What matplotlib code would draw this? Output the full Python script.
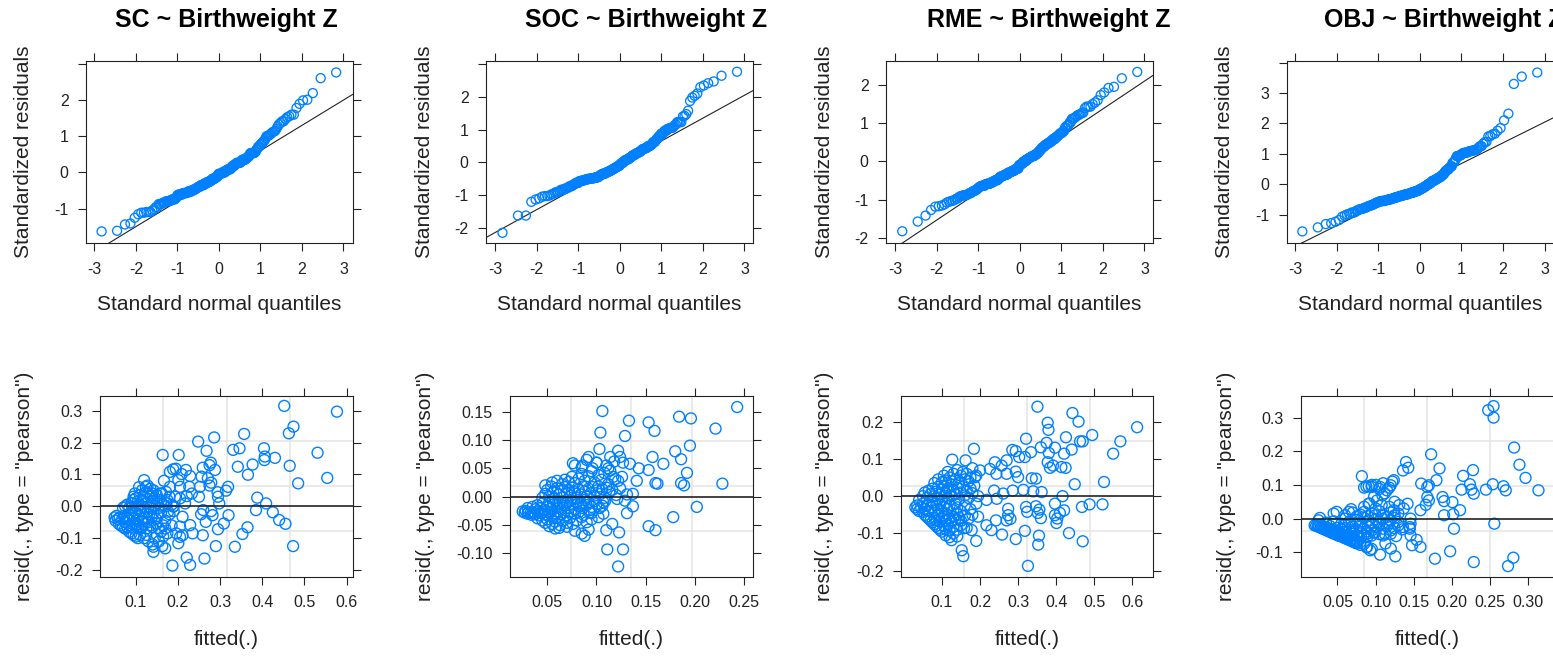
import matplotlib
matplotlib.use('Agg')
import matplotlib.pyplot as plt
import numpy as np
from statistics import NormalDist

W, H = 1553, 656

plt.rcParams['font.family'] = ['Liberation Sans', 'DejaVu Sans']
plt.rcParams['axes.unicode_minus'] = False

POINT = '#0080ff'
INK = '#222222'
GRID = '#e4e4e4'

MODELS = ['SC', 'SOC', 'RME', 'OBJ']

# residual scale used to standardize, and the qq reference line per model
SIGMA = [0.114, 0.057, 0.102, 0.091]
QQ_INTERCEPT = [-0.10, -0.05, -0.08, 0.00]
QQ_SLOPE = [0.70, 0.70, 0.73, 0.68]

# (fitted, pearson residual) per model
SC_POINTS = [
    (0.452, 0.315), (0.577, 0.297), (0.474, 0.250), (0.463, 0.229), (0.357, 0.227),
    (0.531, 0.168), (0.404, 0.182), (0.346, 0.182), (0.331, 0.177), (0.430, 0.152),
    (0.406, 0.156), (0.405, 0.145), (0.377, 0.131), (0.342, 0.124), (0.366, 0.099),
    (0.465, 0.127), (0.554, 0.089), (0.485, 0.072), (0.388, 0.027), (0.409, 0.009),
    (0.385, -0.012), (0.425, -0.019), (0.440, -0.043), (0.455, -0.055), (0.473, -0.125),
    (0.365, -0.066), (0.353, -0.087), (0.335, -0.127), (0.309, -0.054), (0.320, -0.028),
    (0.319, 0.061), (0.314, 0.049), (0.294, 0.044), (0.295, 0.030), (0.298, 0.009),
    (0.295, -0.072), (0.290, -0.125), (0.263, -0.164), (0.221, -0.161), (0.229, -0.184),
    (0.187, -0.186), (0.248, 0.203), (0.286, 0.216), (0.268, 0.174), (0.278, 0.137),
    (0.275, 0.129), (0.288, 0.114), (0.259, 0.121), (0.256, 0.093), (0.271, 0.088),
    (0.279, 0.074), (0.275, 0.065), (0.252, 0.061), (0.250, 0.030), (0.260, -0.012),
    (0.255, -0.025), (0.266, -0.049), (0.282, -0.028), (0.279, -0.015), (0.259, -0.091),
    (0.235, -0.085), (0.229, -0.059), (0.217, 0.009), (0.221, 0.032), (0.227, 0.061),
    (0.233, 0.040), (0.219, 0.114), (0.229, 0.095), (0.209, 0.101), (0.201, 0.082),
    (0.202, 0.161), (0.164, 0.161), (0.189, 0.116), (0.195, 0.118), (0.181, 0.108),
    (0.167, 0.080), (0.181, 0.061), (0.205, 0.061), (0.193, 0.030), (0.205, 0.025),
    (0.189, -0.001), (0.211, -0.033), (0.205, -0.064), (0.211, -0.091), (0.205, -0.096),
    (0.201, -0.116), (0.196, -0.085), (0.170, -0.132), (0.163, -0.125), (0.142, -0.127),
    (0.142, -0.143), (0.120, 0.082), (0.124, 0.061), (0.162, 0.040), (0.173, 0.009),
    (0.177, -0.017),
    (0.085, -0.080), (0.090, -0.085), (0.095, -0.090), (0.100, -0.095), (0.105, -0.100),
    (0.110, -0.090), (0.120, -0.100), (0.125, -0.090), (0.130, -0.110), (0.140, -0.120),
    (0.145, -0.100), (0.155, -0.110), (0.160, -0.080), (0.165, -0.095), (0.175, -0.085),
    (0.060, -0.055), (0.065, -0.060), (0.070, -0.065), (0.075, -0.070), (0.080, -0.065),
    (0.085, -0.060), (0.090, -0.065), (0.095, -0.070), (0.100, -0.060), (0.105, -0.065),
    (0.110, -0.070), (0.115, -0.065), (0.120, -0.055), (0.125, -0.070), (0.130, -0.050),
    (0.135, -0.060), (0.140, -0.065), (0.150, -0.055), (0.155, -0.070), (0.165, -0.060),
    (0.170, -0.070), (0.185, -0.060), (0.075, -0.050), (0.098, -0.052), (0.118, -0.048),
    (0.050, -0.035), (0.052, -0.045), (0.055, -0.030), (0.058, -0.040), (0.062, -0.035),
    (0.068, -0.040), (0.072, -0.030), (0.078, -0.035), (0.082, -0.040), (0.086, -0.045),
    (0.088, -0.020), (0.092, -0.030), (0.096, -0.040), (0.100, -0.020), (0.104, -0.045),
    (0.108, -0.030), (0.112, -0.015), (0.116, -0.040), (0.122, -0.035), (0.126, -0.020),
    (0.132, -0.025), (0.138, -0.035), (0.142, -0.020), (0.148, -0.040), (0.152, -0.030),
    (0.160, -0.020), (0.170, -0.045), (0.180, -0.025), (0.190, -0.015),
    (0.070, -0.005), (0.075, 0.000), (0.080, 0.005), (0.085, -0.005), (0.090, 0.010),
    (0.095, 0.020), (0.095, 0.030), (0.100, 0.000), (0.100, 0.025), (0.105, 0.015),
    (0.105, -0.005), (0.110, 0.005), (0.110, 0.035), (0.115, 0.020), (0.115, 0.050),
    (0.120, -0.005), (0.120, 0.030), (0.125, 0.010), (0.125, 0.045), (0.130, 0.000),
    (0.130, 0.040), (0.135, -0.005), (0.135, 0.030), (0.135, 0.055), (0.140, 0.015),
    (0.140, 0.040), (0.145, 0.000), (0.145, 0.025), (0.150, 0.010), (0.150, 0.035),
    (0.155, -0.005), (0.155, 0.020), (0.160, 0.015), (0.165, 0.005), (0.170, 0.000),
    (0.175, 0.020), (0.180, 0.030), (0.185, 0.005), (0.190, 0.000), (0.098, 0.040),
    (0.092, -0.002), (0.108, 0.060), (0.128, 0.065), (0.142, 0.050), (0.158, 0.040),
    (0.172, 0.045),
]

SOC_POINTS = [
    (0.243, 0.158), (0.106, 0.151), (0.184, 0.141), (0.196, 0.138), (0.133, 0.134),
    (0.153, 0.131), (0.221, 0.120), (0.159, 0.116), (0.104, 0.113), (0.129, 0.107),
    (0.195, 0.090), (0.180, 0.080), (0.103, 0.084), (0.122, 0.081), (0.124, 0.070),
    (0.114, 0.070), (0.157, 0.070), (0.186, 0.066), (0.168, 0.058), (0.153, 0.047),
    (0.143, 0.050), (0.192, 0.042), (0.092, 0.070), (0.076, 0.059), (0.086, 0.055),
    (0.100, 0.060), (0.110, 0.055), (0.114, 0.046), (0.127, 0.060), (0.134, 0.058),
    (0.141, 0.028), (0.126, 0.035), (0.119, 0.031), (0.160, 0.024), (0.162, 0.023),
    (0.186, 0.024), (0.189, 0.020), (0.228, 0.023), (0.202, -0.018), (0.178, -0.036),
    (0.153, -0.052), (0.160, -0.059), (0.123, -0.063), (0.116, -0.048), (0.110, -0.059),
    (0.102, -0.036), (0.107, -0.030), (0.111, -0.093), (0.127, -0.093), (0.122, -0.123),
    (0.092, -0.058), (0.085, -0.065), (0.088, -0.069), (0.131, -0.029), (0.137, -0.017),
    (0.137, 0.005), (0.131, 0.004), (0.129, -0.007), (0.121, -0.004), (0.109, -0.007),
    (0.107, -0.010), (0.093, -0.024), (0.095, -0.029),
    (0.052, -0.052), (0.058, -0.056), (0.062, -0.055), (0.070, -0.053), (0.078, -0.060),
    (0.040, -0.038), (0.045, -0.042), (0.048, -0.046), (0.050, -0.040), (0.055, -0.048),
    (0.058, -0.044), (0.060, -0.036), (0.063, -0.050), (0.066, -0.042), (0.070, -0.046),
    (0.073, -0.038), (0.076, -0.048), (0.080, -0.042), (0.085, -0.036), (0.090, -0.045),
    (0.095, -0.040),
    (0.025, -0.026), (0.027, -0.028), (0.028, -0.025), (0.030, -0.030), (0.031, -0.027),
    (0.033, -0.029), (0.034, -0.032), (0.036, -0.028), (0.038, -0.031), (0.040, -0.026),
    (0.042, -0.033), (0.044, -0.029), (0.046, -0.027), (0.048, -0.031), (0.050, -0.033),
    (0.052, -0.028), (0.054, -0.026), (0.056, -0.032), (0.058, -0.029), (0.061, -0.027),
    (0.064, -0.031), (0.067, -0.028), (0.070, -0.033), (0.074, -0.026), (0.078, -0.030),
    (0.082, -0.027), (0.087, -0.032), (0.093, -0.028),
    (0.030, -0.020), (0.035, -0.018), (0.038, -0.022), (0.040, -0.015), (0.043, -0.020),
    (0.045, -0.012), (0.047, -0.023), (0.050, -0.016), (0.052, -0.010), (0.054, -0.021),
    (0.056, -0.014), (0.058, -0.007), (0.060, -0.019), (0.062, -0.012), (0.064, -0.022),
    (0.066, -0.008), (0.068, -0.016), (0.070, -0.011), (0.072, -0.020), (0.074, -0.006),
    (0.076, -0.014), (0.078, -0.022), (0.080, -0.009), (0.082, -0.017), (0.084, -0.012),
    (0.086, -0.020), (0.088, -0.006), (0.090, -0.015), (0.092, -0.010), (0.095, -0.018),
    (0.098, -0.008), (0.100, -0.013), (0.103, -0.020), (0.106, -0.016),
    (0.045, -0.002), (0.048, 0.005), (0.050, 0.012), (0.052, 0.000), (0.054, 0.018),
    (0.056, 0.008), (0.058, -0.003), (0.060, 0.015), (0.062, 0.004), (0.064, 0.010),
    (0.066, -0.001), (0.068, 0.017), (0.070, 0.006), (0.072, 0.012), (0.074, 0.002),
    (0.076, 0.016), (0.078, 0.008), (0.080, -0.002), (0.082, 0.013), (0.084, 0.004),
    (0.086, 0.018), (0.088, 0.009), (0.090, 0.000), (0.092, 0.014), (0.094, 0.006),
    (0.096, 0.017), (0.098, 0.002), (0.100, 0.011), (0.102, 0.018), (0.104, 0.005),
    (0.106, 0.013), (0.108, -0.002), (0.110, 0.016), (0.113, 0.008), (0.116, 0.012),
    (0.120, 0.003), (0.124, 0.015),
    (0.048, 0.020), (0.055, 0.025), (0.060, 0.028), (0.065, 0.022), (0.068, 0.030),
    (0.072, 0.026), (0.075, 0.035), (0.078, 0.024), (0.082, 0.032), (0.085, 0.040),
    (0.088, 0.028), (0.092, 0.036), (0.095, 0.045), (0.098, 0.025), (0.102, 0.038),
    (0.105, 0.030), (0.108, 0.042), (0.112, 0.022), (0.117, 0.035), (0.122, 0.028),
    (0.078, 0.055), (0.085, 0.052), (0.090, 0.065), (0.096, 0.050), (0.100, 0.060),
    (0.112, 0.050), (0.118, 0.062),
]

RME_POINTS = [
    (0.351, 0.240), (0.443, 0.223), (0.459, 0.200), (0.378, 0.197), (0.380, 0.178),
    (0.613, 0.185), (0.495, 0.164), (0.426, 0.158), (0.321, 0.154), (0.569, 0.147),
    (0.463, 0.147), (0.470, 0.147), (0.375, 0.143), (0.360, 0.131), (0.397, 0.130),
    (0.441, 0.125), (0.184, 0.127), (0.550, 0.114), (0.421, 0.114), (0.334, 0.118),
    (0.285, 0.124), (0.294, 0.121), (0.381, 0.116), (0.127, 0.098), (0.162, 0.096),
    (0.318, 0.105), (0.303, 0.105), (0.270, 0.096), (0.378, 0.091), (0.392, 0.082),
    (0.425, 0.076), (0.414, 0.078), (0.384, 0.076), (0.239, 0.091), (0.257, 0.082),
    (0.226, 0.073), (0.200, 0.069), (0.187, 0.051), (0.243, 0.060), (0.270, 0.060),
    (0.294, 0.066), (0.300, 0.051), (0.336, 0.048), (0.347, 0.047), (0.449, 0.032),
    (0.526, 0.038), (0.314, 0.017), (0.286, 0.015), (0.362, 0.011), (0.340, 0.013),
    (0.237, 0.015), (0.261, 0.007), (0.417, 0.000), (0.244, -0.007), (0.217, -0.010),
    (0.321, -0.029), (0.347, -0.027), (0.356, -0.036), (0.324, -0.042), (0.352, -0.045),
    (0.360, -0.059), (0.397, -0.020), (0.410, -0.045), (0.397, -0.051), (0.403, -0.060),
    (0.401, -0.072), (0.421, -0.038), (0.468, -0.029), (0.488, -0.022), (0.522, -0.022),
    (0.274, -0.034), (0.274, -0.051), (0.280, -0.061), (0.270, -0.065), (0.242, -0.065),
    (0.217, -0.078), (0.230, -0.091), (0.258, -0.103), (0.294, -0.115), (0.318, -0.093),
    (0.355, -0.106), (0.353, -0.130), (0.434, -0.099), (0.470, -0.121), (0.326, -0.187),
    (0.152, -0.145), (0.156, -0.161), (0.190, -0.120), (0.178, -0.091), (0.158, -0.086),
    (0.110, -0.105), (0.120, -0.110), (0.130, -0.100), (0.140, -0.108), (0.125, -0.118),
    (0.080, -0.075), (0.085, -0.080), (0.090, -0.085), (0.095, -0.090), (0.100, -0.095),
    (0.105, -0.080), (0.110, -0.088), (0.115, -0.075), (0.120, -0.092), (0.130, -0.082),
    (0.140, -0.090), (0.150, -0.078), (0.165, -0.085),
    (0.055, -0.050), (0.060, -0.055), (0.065, -0.060), (0.070, -0.065), (0.075, -0.070),
    (0.080, -0.058), (0.085, -0.065), (0.090, -0.050), (0.095, -0.068), (0.100, -0.060),
    (0.105, -0.055), (0.110, -0.065), (0.115, -0.050), (0.120, -0.060), (0.125, -0.068),
    (0.130, -0.055), (0.135, -0.062), (0.140, -0.048), (0.145, -0.058), (0.150, -0.066),
    (0.160, -0.052), (0.170, -0.060), (0.180, -0.050), (0.195, -0.055),
    (0.030, -0.030), (0.035, -0.025), (0.035, -0.035), (0.040, -0.040), (0.045, -0.030),
    (0.050, -0.020), (0.050, -0.042), (0.055, -0.035), (0.060, -0.025), (0.065, -0.040),
    (0.070, -0.030), (0.075, -0.018), (0.080, -0.038), (0.085, -0.025), (0.090, -0.035),
    (0.095, -0.020), (0.100, -0.040), (0.105, -0.028), (0.110, -0.018), (0.115, -0.035),
    (0.120, -0.025), (0.130, -0.038), (0.135, -0.020), (0.140, -0.030), (0.150, -0.040),
    (0.160, -0.025), (0.175, -0.035), (0.190, -0.020),
    (0.040, -0.010), (0.050, 0.000), (0.055, 0.010), (0.060, -0.005), (0.065, 0.015),
    (0.070, 0.005), (0.075, 0.020), (0.080, 0.000), (0.085, 0.012), (0.090, -0.008),
    (0.090, 0.025), (0.095, 0.005), (0.100, 0.018), (0.100, -0.010), (0.105, 0.028),
    (0.110, 0.008), (0.115, -0.005), (0.115, 0.020), (0.120, 0.012), (0.125, 0.000),
    (0.125, 0.030), (0.130, 0.015), (0.135, 0.005), (0.140, 0.022), (0.145, -0.008),
    (0.150, 0.010), (0.155, 0.025), (0.160, 0.002), (0.165, 0.015), (0.170, -0.005),
    (0.175, 0.020), (0.180, 0.008), (0.185, 0.028), (0.195, 0.000),
    (0.080, 0.035), (0.090, 0.045), (0.100, 0.038), (0.105, 0.055), (0.110, 0.042),
    (0.115, 0.065), (0.120, 0.050), (0.125, 0.040), (0.130, 0.060), (0.135, 0.045),
    (0.140, 0.070), (0.145, 0.035), (0.150, 0.055), (0.155, 0.065), (0.160, 0.045),
    (0.165, 0.060), (0.170, 0.040), (0.175, 0.050), (0.180, 0.075), (0.190, 0.055),
]

OBJ_POINTS = [
    (0.255, 0.334), (0.248, 0.322), (0.255, 0.300), (0.282, 0.211), (0.173, 0.191),
    (0.289, 0.160), (0.297, 0.121), (0.314, 0.084), (0.184, 0.149), (0.228, 0.144),
    (0.215, 0.127), (0.140, 0.168), (0.136, 0.143), (0.143, 0.151), (0.082, 0.126),
    (0.180, 0.114), (0.160, 0.104), (0.168, 0.094), (0.224, 0.102), (0.254, 0.102),
    (0.268, 0.096), (0.271, 0.084), (0.245, 0.086), (0.226, 0.086), (0.229, 0.074),
    (0.213, 0.086), (0.211, 0.025), (0.202, 0.013), (0.190, 0.010), (0.201, 0.049),
    (0.188, 0.064), (0.190, 0.052), (0.168, 0.064), (0.170, 0.054), (0.166, 0.041),
    (0.159, 0.025), (0.170, 0.099), (0.124, 0.114), (0.120, 0.099), (0.106, 0.094),
    (0.095, 0.094), (0.091, 0.096), (0.115, 0.084), (0.109, 0.069), (0.102, 0.054),
    (0.091, 0.044), (0.256, -0.015), (0.203, -0.030), (0.198, -0.097), (0.178, -0.119),
    (0.229, -0.129), (0.274, -0.141), (0.281, -0.116), (0.159, -0.084), (0.154, -0.063),
    (0.146, -0.050), (0.148, -0.079), (0.145, -0.030), (0.146, 0.000), (0.146, -0.015),
    (0.136, -0.025), (0.127, -0.052), (0.120, -0.089), (0.126, -0.112), (0.106, -0.107),
    (0.113, -0.074), (0.112, -0.045), (0.089, -0.055), (0.089, -0.084), (0.093, -0.094),
    (0.137, 0.030), (0.131, 0.040), (0.142, 0.044), (0.124, 0.025), (0.065, 0.020),
    (0.049, 0.020), (0.027, 0.002),
    (0.080, -0.078), (0.088, -0.085), (0.095, -0.090),
    (0.055, -0.053), (0.058, -0.056), (0.060, -0.058), (0.062, -0.060), (0.064, -0.062),
    (0.066, -0.064), (0.068, -0.066), (0.070, -0.068), (0.072, -0.070), (0.074, -0.072),
    (0.076, -0.074), (0.065, -0.055), (0.070, -0.060), (0.075, -0.065), (0.080, -0.070),
    (0.085, -0.075),
    (0.038, -0.037), (0.040, -0.039), (0.042, -0.041), (0.044, -0.043), (0.046, -0.045),
    (0.048, -0.047), (0.050, -0.049), (0.052, -0.051), (0.045, -0.038), (0.050, -0.042),
    (0.055, -0.046), (0.060, -0.050), (0.065, -0.048), (0.070, -0.045), (0.075, -0.050),
    (0.080, -0.040), (0.085, -0.048), (0.090, -0.044), (0.095, -0.050), (0.100, -0.040),
    (0.105, -0.046), (0.110, -0.050), (0.058, -0.040), (0.068, -0.038), (0.078, -0.052),
    (0.088, -0.038), (0.098, -0.042), (0.120, -0.045),
    (0.020, -0.020), (0.022, -0.021), (0.024, -0.023), (0.026, -0.025), (0.028, -0.027),
    (0.030, -0.029), (0.032, -0.031), (0.034, -0.033), (0.036, -0.035), (0.025, -0.018),
    (0.030, -0.022), (0.035, -0.026), (0.040, -0.030), (0.045, -0.033), (0.050, -0.036),
    (0.055, -0.032), (0.060, -0.028), (0.065, -0.035), (0.070, -0.025), (0.075, -0.032),
    (0.080, -0.020), (0.085, -0.030), (0.090, -0.022), (0.095, -0.035), (0.100, -0.025),
    (0.105, -0.018), (0.110, -0.030), (0.115, -0.022), (0.120, -0.035), (0.125, -0.028),
    (0.130, -0.020), (0.040, -0.022), (0.050, -0.027), (0.060, -0.018), (0.070, -0.035),
    (0.135, -0.032), (0.145, -0.025),
    (0.025, -0.005), (0.035, -0.012), (0.045, -0.008), (0.055, -0.015), (0.060, 0.000),
    (0.065, -0.010), (0.075, -0.004), (0.080, -0.012), (0.085, 0.002), (0.090, -0.006),
    (0.095, -0.014), (0.100, -0.002), (0.105, -0.009), (0.110, 0.000), (0.115, -0.012),
    (0.120, -0.005), (0.125, 0.002), (0.130, -0.010),
    (0.045, 0.015), (0.060, 0.010), (0.070, 0.018), (0.075, 0.006), (0.080, 0.012),
    (0.085, 0.020), (0.090, 0.008), (0.095, 0.016), (0.100, 0.010), (0.105, 0.022),
    (0.110, 0.012), (0.115, 0.005), (0.120, 0.018), (0.125, 0.010), (0.130, 0.015),
    (0.068, 0.028), (0.085, 0.035), (0.092, 0.045), (0.100, 0.030), (0.108, 0.040),
    (0.118, 0.035), (0.125, 0.050), (0.098, 0.065), (0.112, 0.075),
    (0.088, 0.095), (0.100, 0.100), (0.105, 0.088), (0.110, 0.105), (0.118, 0.092),
    (0.122, 0.110), (0.085, 0.092), (0.095, 0.100),
]

POINTS = [SC_POINTS, SOC_POINTS, RME_POINTS, OBJ_POINTS]

# axis ticks and labels
QQ_XTICKS = [-3, -2, -1, 0, 1, 2, 3]
QQ_YTICKS = [[-1, 0, 1, 2, 3], [-2, -1, 0, 1, 2, 3], [-2, -1, 0, 1, 2], [-1, 0, 1, 2, 3, 4]]
QQ_YLABELS = [['-1', '0', '1', '2', ''], ['-2', '-1', '0', '1', '2', ''],
              ['-2', '-1', '0', '1', '2'], ['-1', '0', '1', '2', '3', '']]
QQ_XLIM = [(-3.20, 3.23), (-3.22, 3.20), (-3.22, 3.20), (-3.20, 3.22)]
QQ_YLIM = [(-1.96, 3.08), (-2.48, 3.10), (-2.15, 2.64), (-1.94, 4.05)]

RES_XTICKS = [[0.1, 0.2, 0.3, 0.4, 0.5, 0.6], [0.05, 0.10, 0.15, 0.20, 0.25],
              [0.1, 0.2, 0.3, 0.4, 0.5, 0.6], [0.05, 0.10, 0.15, 0.20, 0.25, 0.30]]
RES_XLABELS = [['0.1', '0.2', '0.3', '0.4', '0.5', '0.6'],
               ['0.05', '0.10', '0.15', '0.20', '0.25'],
               ['0.1', '0.2', '0.3', '0.4', '0.5', '0.6'],
               ['0.05', '0.10', '0.15', '0.20', '0.25', '0.30']]
RES_YTICKS = [[-0.2, -0.1, 0.0, 0.1, 0.2, 0.3], [-0.10, -0.05, 0.0, 0.05, 0.10, 0.15],
              [-0.2, -0.1, 0.0, 0.1, 0.2], [-0.1, 0.0, 0.1, 0.2, 0.3]]
RES_YLABELS = [['-0.2', '-0.1', '0.0', '0.1', '0.2', '0.3'],
               ['-0.10', '-0.05', '0.00', '0.05', '0.10', '0.15'],
               ['-0.2', '-0.1', '0.0', '0.1', '0.2'],
               ['-0.1', '0.0', '0.1', '0.2', '0.3']]
RES_XLIM = [(0.0154, 0.615), (0.0121, 0.2588), (-0.0077, 0.654), (0.0017, 0.334)]
RES_YLIM = [(-0.221, 0.347), (-0.141, 0.178), (-0.216, 0.2695), (-0.1725, 0.365)]

# panel boxes in pixels
TOP_LEFT = [86, 486, 886, 1286.7]
TOP_RIGHT = [353, 752.7, 1152.7, 1553.7]
TOP_Y = (61, 243.3)
BOT_LEFT = [100, 510, 901, 1300.7]
BOT_RIGHT = [353, 752.7, 1152.7, 1553.7]
BOT_Y = (395.7, 576.7)
TITLE_X = [115, 525, 926.7, 1324]
TOP_YLAB_X = [24, 424, 824, 1224]
BOT_YLAB_X = [25, 425, 825, 1227]


def fx(x):
    return x / W


def fy(y):
    return 1 - y / H


def make_axes(fig, left, right, top, bottom):
    return fig.add_axes([fx(left), fy(bottom), (right - left) / W, (bottom - top) / H])


def style_axes(ax, xticks, xlabels, yticks, ylabels, xlim, ylim):
    ax.set_xlim(xlim)
    ax.set_ylim(ylim)
    ax.set_xticks(xticks)
    ax.set_xticklabels(xlabels)
    ax.set_yticks(yticks)
    ax.set_yticklabels(ylabels)
    ax.tick_params(direction='out', length=5.5, width=0.8, color=INK,
                   labelcolor=INK, labelsize=11.5, top=True, right=True,
                   labeltop=False, labelright=False)
    ax.tick_params(axis='x', pad=8)
    ax.tick_params(axis='y', pad=7)
    for s in ax.spines.values():
        s.set_color(INK)
        s.set_linewidth(0.8)


def main():
    fig = plt.figure(figsize=(W / 100, H / 100), dpi=100)
    nd = NormalDist()

    for i, name in enumerate(MODELS):
        pts = np.array(POINTS[i])
        fitted, resid = pts[:, 0], pts[:, 1]

        # ── normal QQ of standardized residuals ──
        ax = make_axes(fig, TOP_LEFT[i], TOP_RIGHT[i], *TOP_Y)
        z = np.sort(resid) / SIGMA[i]
        n = len(z)
        q = np.array([nd.inv_cdf((k + 0.5) / n) for k in range(n)])
        ax.axline((0, QQ_INTERCEPT[i]), slope=QQ_SLOPE[i], color=INK, lw=0.8, zorder=1)
        ax.scatter(q, z, s=42, facecolors='none', edgecolors=POINT,
                   linewidths=0.95, zorder=2)
        style_axes(ax, QQ_XTICKS, [str(t) for t in QQ_XTICKS],
                   QQ_YTICKS[i], QQ_YLABELS[i], QQ_XLIM[i], QQ_YLIM[i])

        fig.text(fx(TITLE_X[i]), fy(27), f'{name} ~ Birthweight Z', ha='left',
                 va='baseline', fontsize=18, fontweight='bold', color='black')
        fig.text(fx((TOP_LEFT[i] + TOP_RIGHT[i]) / 2), fy(310), 'Standard normal quantiles',
                 ha='center', va='baseline', fontsize=15, color=INK)
        fig.text(fx(TOP_YLAB_X[i]), fy(sum(TOP_Y) / 2), 'Standardized residuals',
                 ha='center', va='center', rotation=90, fontsize=15, color=INK)

        # ── pearson residuals vs fitted ──
        ax = make_axes(fig, BOT_LEFT[i], BOT_RIGHT[i], *BOT_Y)
        x0, x1 = RES_XLIM[i]
        y0, y1 = RES_YLIM[i]
        for f in (0.25, 0.5, 0.75):
            ax.axvline(x0 + f * (x1 - x0), color=GRID, lw=1.1, zorder=0)
            ax.axhline(y0 + f * (y1 - y0), color=GRID, lw=1.1, zorder=0)
        ax.scatter(fitted, resid, s=62, facecolors='none', edgecolors=POINT,
                   linewidths=1.0, zorder=2)
        ax.axhline(0, color=INK, lw=1.2, zorder=3)
        style_axes(ax, RES_XTICKS[i], RES_XLABELS[i], RES_YTICKS[i], RES_YLABELS[i],
                   RES_XLIM[i], RES_YLIM[i])

        fig.text(fx((BOT_LEFT[i] + BOT_RIGHT[i]) / 2), fy(645), 'fitted(.)',
                 ha='center', va='baseline', fontsize=15, color=INK)
        fig.text(fx(BOT_YLAB_X[i]), fy(sum(BOT_Y) / 2), 'resid(., type = "pearson")',
                 ha='center', va='center', rotation=90, fontsize=15, color=INK)

    fig.savefig('out.png', dpi=100, facecolor='white')


if __name__ == '__main__':
    main()
